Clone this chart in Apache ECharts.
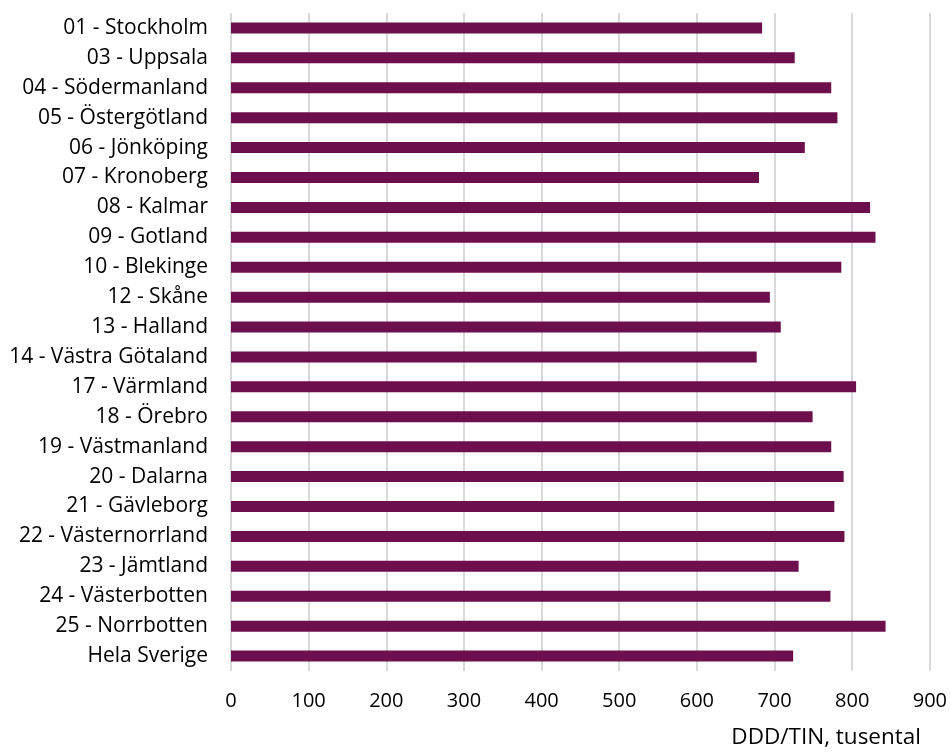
<!DOCTYPE html>
<html><head><meta charset="utf-8">
<script src="https://cdn.jsdelivr.net/npm/echarts@6/dist/echarts.min.js"></script>
<style>html,body{margin:0;padding:0;background:#fff}#c{width:950px;height:753px}</style>
</head><body><div id="c"></div>
<script>
const categories = ["01 - Stockholm","03 - Uppsala","04 - Södermanland","05 - Östergötland","06 - Jönköping","07 - Kronoberg","08 - Kalmar","09 - Gotland","10 - Blekinge","12 - Skåne","13 - Halland","14 - Västra Götaland","17 - Värmland","18 - Örebro","19 - Västmanland","20 - Dalarna","21 - Gävleborg","22 - Västernorrland","23 - Jämtland","24 - Västerbotten","25 - Norrbotten","Hela Sverige"];
const values = [684,726,773,781,739,680,823,830,786,694,708,677,805,749,773,789,777,790,731,772,843,724];
const axisTicks = [0,100,200,300,400,500,600,700,800,900];
const axisName = "DDD/TIN, tusental";

const chart = echarts.init(document.getElementById('c'), null, {renderer:'canvas'});
const font = '"Open Sans"';
chart.setOption({
  animation:false,
  title:{text:axisName, right:29, top:726, padding:0,
    textStyle:{fontFamily:font, fontSize:22.5, fontWeight:'normal', color:'#000'}},
  grid:{left:231, right:20, top:13, bottom:82, containLabel:false},
  xAxis:{type:'value', min:axisTicks[0], max:axisTicks[axisTicks.length-1], interval:100,
    axisLine:{show:false}, axisTick:{show:false},
    splitLine:{show:true, lineStyle:{color:'#d9d9d9', width:2}},
    axisLabel:{fontFamily:font, fontSize:20, color:'#000', margin:20}
  },
  yAxis:{type:'category', data:categories, inverse:true,
    axisLine:{show:false}, axisTick:{show:false}, splitLine:{show:false},
    axisLabel:{fontFamily:font, fontSize:21, color:'#000', margin:23}
  },
  series:[{type:'bar', data:values, barWidth:11, itemStyle:{color:'#6d0e4d'}}]
});
</script></body></html>
